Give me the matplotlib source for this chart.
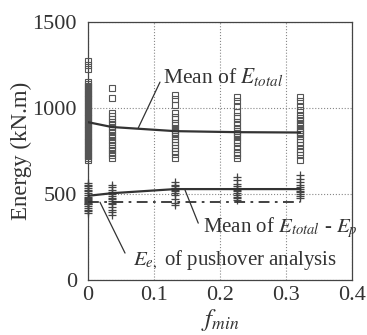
import matplotlib
matplotlib.use("Agg")
import matplotlib.pyplot as plt
import numpy as np

plt.rcParams['font.family'] = ['Liberation Serif', 'DejaVu Serif']
plt.rcParams['mathtext.fontset'] = 'stix'

f_vals = [0.0, 0.036, 0.132, 0.226, 0.321]

sq_0 = [1275, 1250, 1225, 1150, 1140, 1130, 1120, 1110, 1100, 1090, 1080, 1070, 1060, 1050,
        1040, 1030, 1020, 1010, 1000, 990, 980, 970, 960, 950, 940, 930, 920, 910, 900, 890,
        880, 870, 860, 850, 840, 830, 820, 810, 800, 790, 780, 770, 760, 750, 740, 730, 720,
        710, 700]
sq_1 = [1115, 1060, 970, 955, 935, 920, 905, 890, 875, 860, 845, 830, 815, 800, 785, 770,
        755, 740, 725, 710]
sq_2 = [1075, 1050, 1020, 970, 950, 935, 915, 900, 885, 870, 860, 850, 835, 820, 800, 785,
        770, 750, 735, 710]
sq_3 = [1065, 1040, 1015, 975, 955, 940, 920, 900, 880, 865, 855, 845, 830, 815, 800, 780,
        760, 740, 725, 710]
sq_4 = [1065, 1040, 1015, 990, 960, 945, 930, 915, 900, 885, 870, 860, 850, 835, 820, 800,
        785, 765, 745, 725, 700]
squares = [sq_0, sq_1, sq_2, sq_3, sq_4]

pl_0 = [565, 555, 545, 535, 525, 515, 505, 495, 485, 475, 470, 465, 460, 455, 450, 445, 440,
        430, 420, 410, 400, 390]
pl_1 = [555, 540, 525, 510, 500, 490, 480, 470, 460, 450, 440, 425, 410, 395, 380]
pl_2 = [570, 555, 545, 535, 525, 515, 505, 495, 470, 450, 435]
pl_3 = [600, 580, 560, 545, 535, 525, 515, 505, 495, 485, 475, 465]
pl_4 = [610, 590, 570, 555, 540, 530, 520, 510, 500, 490, 480]
pluses = [pl_0, pl_1, pl_2, pl_3, pl_4]

mean_total = [918, 890, 866, 860, 858]
mean_diff = [490, 505, 529, 529, 529]
pushover = [453, 453, 453, 453, 453]

txt_color = '#333333'

fig = plt.figure(figsize=(3.67, 3.35), dpi=100)
ax = fig.add_axes([0.240, 0.164, 0.719, 0.770])

for f, s in zip(f_vals, squares):
    ax.plot([f] * len(s), s, linestyle='none', marker='s', markersize=4.2,
            markerfacecolor='none', markeredgecolor='#555555', markeredgewidth=0.8,
            clip_on=False, zorder=3)
for f, p in zip(f_vals, pluses):
    ax.plot([f] * len(p), p, linestyle='none', marker='+', markersize=6,
            color='#444444', markeredgewidth=0.9, clip_on=False, zorder=3)

ax.plot(f_vals, mean_total, color=txt_color, lw=1.6, zorder=4)
ax.plot(f_vals, mean_diff, color=txt_color, lw=1.6, zorder=4)
ax.plot(f_vals, pushover, color=txt_color, lw=1.3, linestyle=(0, (6, 3, 1.5, 3)), zorder=4)

ax.set_xlim(0, 0.4)
ax.set_ylim(0, 1500)
ax.set_xticks([0, 0.1, 0.2, 0.3, 0.4])
ax.set_xticklabels(['0', '0.1', '0.2', '0.3', '0.4'])
ax.set_yticks([0, 500, 1000, 1500])
ax.grid(True, linestyle=':', color='#888888', linewidth=0.8)
ax.tick_params(length=0, labelsize=16, colors=txt_color)
ax.tick_params(axis='y', pad=8)
ax.tick_params(axis='x', pad=4)
for sp in ax.spines.values():
    sp.set_color('#444444')
    sp.set_linewidth(0.9)

ax.set_ylabel('Energy (kN.m)', fontsize=16.5, color=txt_color, labelpad=0)
ax.set_xlabel('$f_{min}$', fontsize=18, color=txt_color, labelpad=2)

line_kw = dict(arrowstyle='-', color=txt_color, lw=0.9, shrinkA=0, shrinkB=0)
ax.annotate('', xy=(0.076, 884), xytext=(0.109, 1151), arrowprops=line_kw)
ax.annotate('', xy=(0.147, 523), xytext=(0.167, 331), arrowprops=line_kw)
ax.annotate('', xy=(0.018, 453), xytext=(0.056, 157), arrowprops=line_kw)

ax.text(0.114, 1145, 'Mean of $E_{total}$', fontsize=15.5, color=txt_color,
        va='baseline', ha='left')
ax.text(0.174, 279, 'Mean of $E_{total}$ - $E_p$', fontsize=15, color=txt_color,
        va='baseline', ha='left')
ax.text(0.068, 87, '$E_{e,}$ of pushover analysis', fontsize=15, color=txt_color,
        va='baseline', ha='left')

fig.savefig('out.png', dpi=100)
